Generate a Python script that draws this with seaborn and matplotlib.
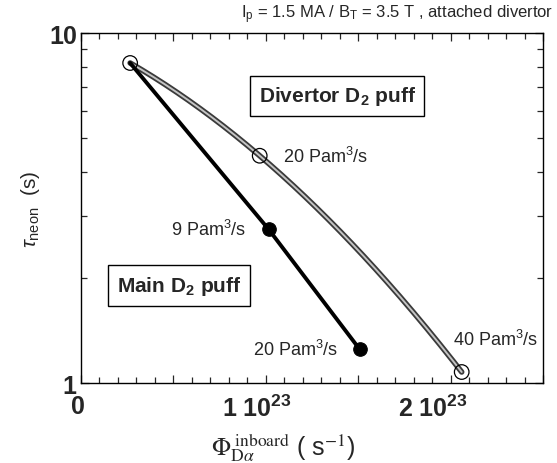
import numpy as np
import matplotlib
matplotlib.use("Agg")
import matplotlib.pyplot as plt
import matplotlib.patheffects as pe
from matplotlib.ticker import MultipleLocator, NullFormatter
from matplotlib.transforms import ScaledTranslation
import seaborn as sns

# Neon residence time versus inboard D-alpha flux
main_flux = [0.266e23, 1.015e23, 1.507e23]
main_tau = [8.21, 2.75, 1.25]
main_rate = ["", "9 Pam$^3$/s", "20 Pam$^3$/s"]

div_flux = [0.266e23, 0.967e23, 2.06e23]
div_tau = [8.21, 4.46, 1.075]
div_rate = ["", "20 Pam$^3$/s", "40 Pam$^3$/s"]

xtick_values = [0, 0.5e23, 1e23, 1.5e23, 2e23, 2.5e23]
xtick_labels = ["0", "", r"1 10$^{\mathbf{23}}$", "", r"2 10$^{\mathbf{23}}$", ""]
ytick_values = [1, 10]
ytick_labels = ["1", "10"]

sns.set_style("ticks")
plt.rcParams["font.family"] = ["Liberation Sans", "DejaVu Sans"]
plt.rcParams["mathtext.fontset"] = "custom"
plt.rcParams["mathtext.rm"] = "Liberation Sans"
plt.rcParams["mathtext.sf"] = "Liberation Sans"
plt.rcParams["mathtext.it"] = "Liberation Sans:italic"
plt.rcParams["mathtext.bf"] = "Liberation Sans:bold"

fig = plt.figure(figsize=(5.57, 4.64), dpi=100)
ax = fig.add_axes([0.1454, 0.1724, 0.8295, 0.7543])

# divertor puff: smooth double-stroked curve through the three points
xf = np.array(div_flux) / 1e23
coef = np.polyfit(xf, np.log10(div_tau), 2)
xs = np.linspace(xf[0], xf[-1], 200)
sns.lineplot(x=xs * 1e23, y=10 ** np.polyval(coef, xs), ax=ax, sort=False,
             estimator=None, color="#c4c4c4", lw=1.4,
             path_effects=[pe.Stroke(linewidth=4.0, foreground="#3a3a3a"), pe.Normal()])

# main chamber puff: thick black segments
sns.lineplot(x=main_flux, y=main_tau, ax=ax, sort=False, estimator=None,
             color="black", lw=2.8)

sns.scatterplot(x=div_flux, y=div_tau, ax=ax, s=110, marker="o",
                facecolor="none", edgecolor="black", linewidth=0.9, zorder=4)
sns.scatterplot(x=main_flux[1:], y=main_tau[1:], ax=ax, s=95, marker="o",
                color="black", edgecolor="black", zorder=4)

ax.set_yscale("log")
ax.set_xlim(0, 2.5e23)
ax.set_ylim(1, 10)

ax.set_xticks(xtick_values, xtick_labels)
ax.xaxis.set_minor_locator(MultipleLocator(0.1e23))
ax.set_yticks(ytick_values, ytick_labels)
ax.yaxis.set_minor_formatter(NullFormatter())

ax.tick_params(which="both", direction="in", top=True, right=True, width=0.9)
ax.tick_params(which="major", length=6)
ax.tick_params(which="minor", length=4)
ax.tick_params(axis="x", which="major", pad=8, labelsize=18)
ax.tick_params(axis="y", which="major", pad=3, labelsize=18)
for lab in ax.get_xticklabels() + ax.get_yticklabels():
    lab.set_fontweight("bold")

for lab, dx in zip(ax.get_xticklabels(), [-3, 0, -9, 0, -18, 0]):
    lab.set_transform(lab.get_transform() + ScaledTranslation(dx / 100, 0, fig.dpi_scale_trans))

for side in ax.spines.values():
    side.set_linewidth(1.0)
    side.set_color("black")

ax.set_ylabel(r"$\tau_{\rm neon}$  (s)", fontsize=15, labelpad=5)
ax.set_xlabel(r"$\Phi_{\mathrm{D}\alpha}^{\ \mathrm{inboard}}$ ( s$^{-1}$)",
              fontsize=18, math_fontfamily="stix")
ax.xaxis.set_label_coords(0.437, -0.135)

# puff-rate annotations
ax.text(div_flux[1] + 0.125e23, div_tau[1], div_rate[1], fontsize=13, ha="left", va="center")
ax.text(div_flux[2] - 0.045e23, div_tau[2] * 1.24, div_rate[2], fontsize=13, ha="left", va="center")
ax.text(main_flux[1] - 0.12e23, main_tau[1], main_rate[1], fontsize=13, ha="right", va="center")
ax.text(main_flux[2] - 0.115e23, main_tau[2], main_rate[2], fontsize=13, ha="right", va="center")

box = dict(boxstyle="square,pad=0.42", fc="white", ec="black", lw=1.0)
ax.text(1.386e23, 6.61, r"Divertor D$_{\mathbf{2}}$ puff", fontsize=15, fontweight="bold",
        ha="center", va="center", bbox=box)
ax.text(0.53e23, 1.90, r"Main D$_{\mathbf{2}}$ puff", fontsize=15, fontweight="bold",
        ha="center", va="center", bbox=box)

fig.text(0.993, 0.968, r"I$_{\rm p}$ = 1.5 MA / B$_{\rm T}$ = 3.5 T , attached divertor",
         ha="right", va="center", fontsize=12)

fig.savefig("out.png", dpi=100, facecolor="white")
